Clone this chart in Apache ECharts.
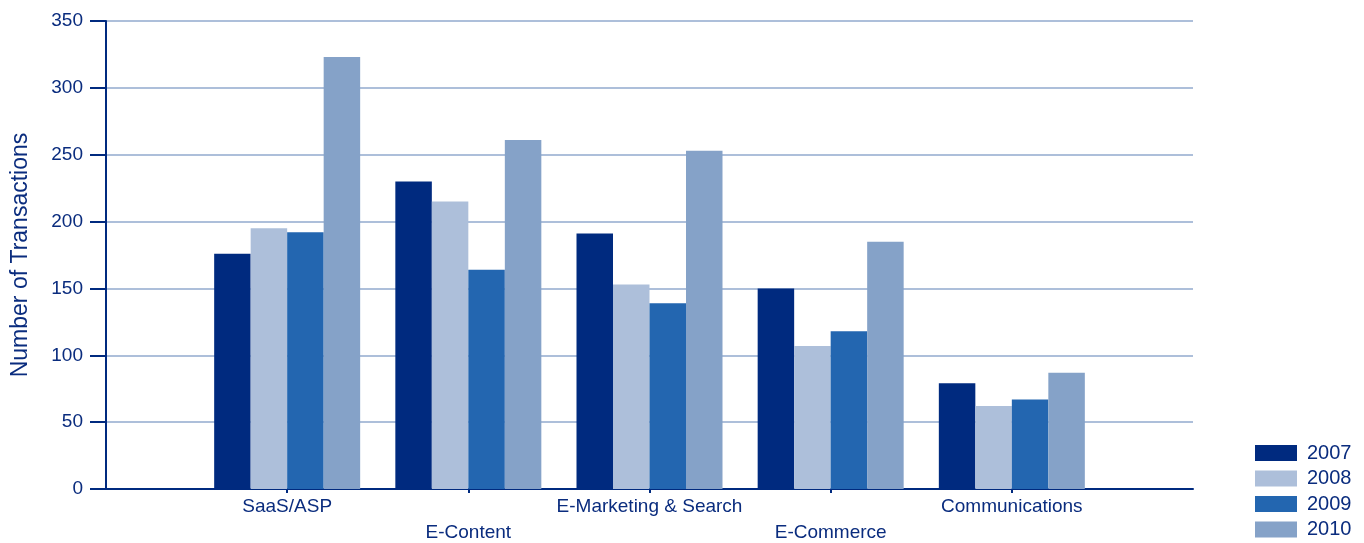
<!DOCTYPE html>
<html>
<head>
<meta charset="utf-8">
<script src="https://cdn.jsdelivr.net/npm/echarts@6/dist/echarts.min.js"></script>
<style>html,body{margin:0;padding:0;background:#fff}#c{width:1364px;height:543px}</style>
</head>
<body>
<div id="c"></div>
<script>
const categories = ['SaaS/ASP', 'E-Content', 'E-Marketing & Search', 'E-Commerce', 'Communications'];
const years = ['2007', '2008', '2009', '2010'];
const v2007 = [176, 230, 191, 150, 79];
const v2008 = [195, 215, 153, 107, 62];
const v2009 = [192, 164, 139, 118, 67];
const v2010 = [323, 261, 253, 185, 87];
const yTicks = [0, 50, 100, 150, 200, 250, 300, 350];

const colors = ['#002A7F', '#ADBFDA', '#2366B0', '#85A2C8'];
const navy = '#0A2C7E';
const font = '"Liberation Sans", Arial, sans-serif';

const axisCats = [''].concat(categories, ['']);
const pad = arr => ['-'].concat(arr, ['-']);
const seriesValues = [v2007, v2008, v2009, v2010];

const chart = echarts.init(document.getElementById('c'), null, {renderer: 'canvas'});
chart.setOption({
  animation: false,
  color: colors,
  textStyle: {fontFamily: font},
  grid: {left: 106, right: 171, top: 21, bottom: 54, containLabel: false, outerBoundsMode: 'none'},
  legend: {
    show: true,
    orient: 'vertical',
    left: 1255,
    top: 443,
    padding: 0,
    itemWidth: 42,
    itemHeight: 16,
    itemGap: 5.5,
    selectedMode: false,
    icon: 'rect',
    data: years,
    textStyle: {color: navy, fontSize: 20, fontFamily: font, padding: [0, 0, 0, 5]}
  },
  xAxis: {
    type: 'category',
    data: axisCats,
    boundaryGap: false,
    axisLine: {lineStyle: {color: '#002A7F', width: 2}},
    axisTick: {show: true, length: 4, interval: (i) => i > 0 && i < axisCats.length - 1, lineStyle: {color: '#002A7F', width: 2}},
    axisLabel: {
      interval: 0,
      margin: 5,
      color: navy,
      fontSize: 19,
      lineHeight: 26,
      fontFamily: font,
      formatter: (val, idx) => (idx % 2 === 0 ? '\n' + val : val)
    },
    splitLine: {show: false}
  },
  yAxis: {
    type: 'value',
    min: yTicks[0],
    max: yTicks[yTicks.length - 1],
    interval: 50,
    name: 'Number of Transactions',
    nameLocation: 'middle',
    nameGap: 74,
    nameTextStyle: {color: navy, fontSize: 23, fontFamily: font},
    axisLine: {show: true, lineStyle: {color: '#002A7F', width: 2}},
    axisTick: {show: true, length: 16, lineStyle: {color: '#002A7F', width: 2}},
    axisLabel: {margin: 23, color: navy, fontSize: 19, fontFamily: font},
    splitLine: {show: true, lineStyle: {color: '#ADBFDA', width: 2}}
  },
  series: years.map((y, i) => ({
    name: y,
    type: 'bar',
    data: pad(seriesValues[i]),
    barWidth: 36.5,
    barGap: '0%',
    itemStyle: {color: colors[i]}
  }))
});
</script>
</body>
</html>
